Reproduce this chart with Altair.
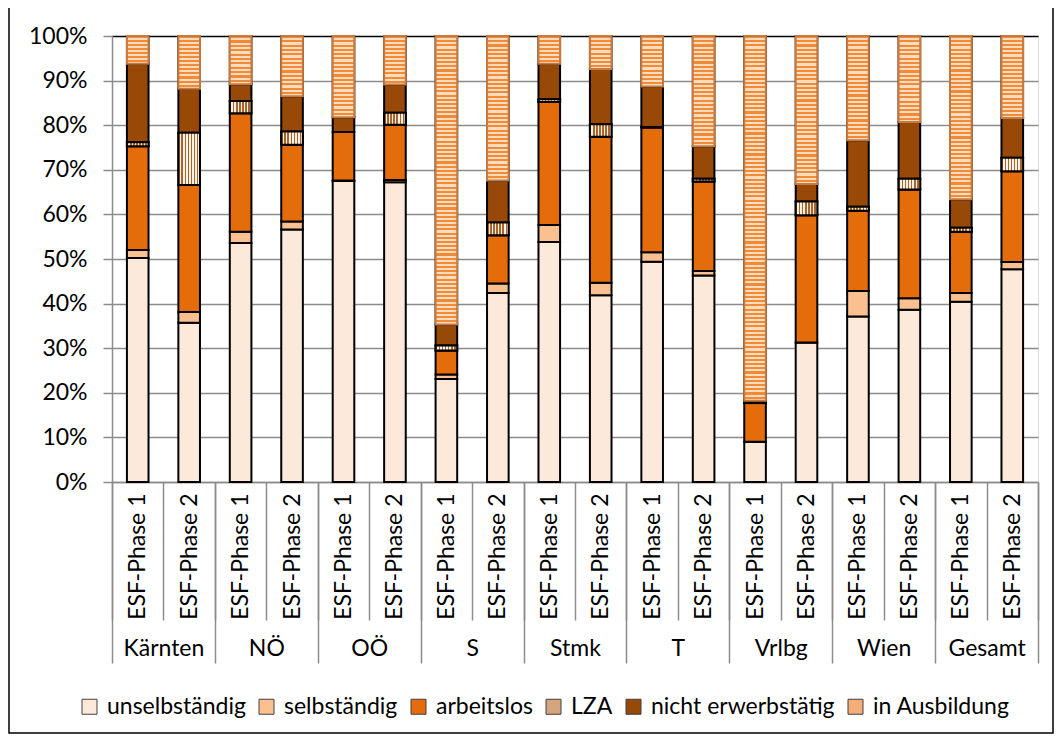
import altair as alt
import pandas as pd

groups = ["Kärnten", "NÖ", "OÖ", "S", "Stmk", "T", "Vrlbg", "Wien", "Gesamt"]
phases = ["ESF-Phase 1", "ESF-Phase 2"]
categories = ["unselbständig", "selbständig", "arbeitslos", "LZA",
              "nicht erwerbstätig", "in Ausbildung"]

unselbstaendig = [50.2, 35.7, 53.6, 56.6, 67.5, 67.2, 23.1, 42.4, 53.8, 41.9,
                  49.4, 46.3, 9.0, 31.3, 37.1, 38.6, 40.4, 47.7]
selbstaendig = [1.8, 2.4, 2.5, 1.8, 0.1, 0.5, 1.0, 2.1, 3.8, 2.8,
                2.1, 1.0, 0.0, 0.0, 5.7, 2.6, 2.0, 1.6]
arbeitslos = [23.3, 28.5, 26.6, 17.2, 10.9, 12.4, 5.4, 10.8, 27.6, 32.7,
              28.0, 20.1, 8.7, 28.5, 18.0, 24.4, 13.7, 20.4]
lza = [0.9, 11.7, 2.7, 3.0, 0.0, 2.7, 1.1, 2.9, 0.6, 2.8,
       0.1, 0.6, 0.3, 3.1, 0.9, 2.4, 0.9, 3.0]
nicht_erwerbstaetig = [17.6, 9.9, 3.8, 7.9, 3.3, 6.3, 4.7, 9.4, 8.0, 12.4,
                       9.1, 7.3, 0.2, 3.9, 14.9, 12.7, 6.4, 8.9]
in_ausbildung = [6.2, 11.8, 10.8, 13.5, 18.2, 10.9, 64.7, 32.4, 6.2, 7.4,
                 11.3, 24.7, 81.8, 33.2, 23.4, 19.3, 36.6, 18.4]

series = [unselbstaendig, selbstaendig, arbeitslos, lza, nicht_erwerbstaetig, in_ausbildung]

W, H = 926, 446
GRAY = "#8C8C8C"
FONT = "Lato"
FS = 23

rows = []
for gi, g in enumerate(groups):
    for pi, p in enumerate(phases):
        bi = gi * 2 + pi
        start = 0.0
        for ci, c in enumerate(categories):
            v = series[ci][bi]
            rows.append(dict(bar=f"{g}|{p}", idx=bi, group=g, phase=p, cat=c,
                             order=ci, y0=start, y1=start + v, v=v))
            start += v
df = pd.DataFrame(rows)
bar_ids = list(dict.fromkeys(df["bar"]))

colors = ["#FDE9D9", "#FAC090", "#E46C0A", "#D4A57F", "#984807", "#F5AE78"]

xscale = alt.Scale(domain=bar_ids, paddingInner=0, paddingOuter=0)
yscale = alt.Scale(domain=[0, 100], nice=False)
bw = alt.RelativeBandSize(0.42)

x_axis = alt.Axis(orient="bottom", labelAngle=270, labelAlign="right",
                  labelBaseline="middle", labelPadding=-127, tickBand="extent",
                  tickSize=138, tickColor=GRAY, tickWidth=1.5, domainColor=GRAY,
                  domainWidth=1.5, labelFont=FONT, labelFontSize=FS,
                  labelColor="black", grid=False,
                  labelExpr="split(datum.value, '|')[1]", title=None)
y_axis = alt.Axis(values=list(range(0, 101, 10)), labelExpr="datum.value + '%'",
                  grid=True,
                  gridColor={"condition": {"test": "datum.value === 100", "value": "black"},
                             "value": GRAY},
                  gridWidth=1.5, domainColor=GRAY,
                  domainWidth=1.5, tickColor=GRAY, tickWidth=1.5, tickSize=9,
                  labelFont=FONT, labelFontSize=FS, labelColor="black",
                  labelPadding=16, title=None)

X = alt.X("bar:N", sort=bar_ids, scale=xscale, axis=x_axis)
Y = alt.Y("y0:Q", scale=yscale, axis=y_axis)

main = alt.Chart(df).mark_bar(width=bw, stroke="black", strokeWidth=2).encode(
    x=X, y=Y, y2="y1:Q",
    color=alt.Color("cat:N", scale=alt.Scale(domain=categories, range=colors),
                    legend=alt.Legend(orient="none", legendX=-34, legendY=659,
                                      direction="horizontal", title=None,
                                      symbolType="square", symbolSize=225,
                                      symbolStrokeColor="#404040",
                                      symbolStrokeWidth=1, symbolOpacity=1,
                                      labelFont=FONT, labelFontSize=FS,
                                      labelColor="black", columnPadding=9,
                                      labelOffset=6, labelLimit=0)),
)


def stops(n, c1, c2):
    out = []
    for k in range(n):
        a = round(k / n, 5)
        m = round((k + 0.5) / n, 5)
        b = round((k + 1) / n, 5)
        out += [alt.GradientStop(offset=a, color=c1), alt.GradientStop(offset=m, color=c1),
                alt.GradientStop(offset=m, color=c2), alt.GradientStop(offset=b, color=c2)]
    return out


lza_fill = alt.LinearGradient(gradient="linear", x1=0, y1=0, x2=1, y2=0,
                              stops=stops(7, "#A8652C", "#FDF0E4"))
lza_layer = alt.Chart(df[df["cat"] == "LZA"]).mark_bar(
    width=bw, fill=lza_fill, stroke="black", strokeWidth=2).encode(
    x=X, y=Y, y2="y1:Q")

ausb_df = df[df["cat"] == "in Ausbildung"].reset_index(drop=True)
ausb_layers = []
for i in range(len(ausb_df)):
    sub = ausb_df.iloc[[i]]
    hpx = float(sub["v"].iloc[0]) / 100.0 * H
    n = max(1, int(round(hpx / 4.2)))
    fill = alt.LinearGradient(gradient="linear", x1=0, y1=0, x2=0, y2=1,
                              stops=stops(n, "#F28A36", "#FDDCC0"))
    ausb_layers.append(alt.Chart(sub).mark_bar(
        width=bw, fill=fill, stroke="#C57A42", strokeWidth=2).encode(
        x=X, y=Y, y2="y1:Q"))

inner = alt.layer(main, lza_layer, *ausb_layers)

grp = alt.Chart(pd.DataFrame({"group": groups})).mark_point(opacity=0).encode(
    x=alt.X("group:N", sort=groups,
            scale=alt.Scale(type="band", domain=groups, paddingInner=0, paddingOuter=0),
            axis=alt.Axis(orient="bottom", tickBand="extent", tickSize=181,
                          tickColor=GRAY, tickWidth=1.5, domain=False,
                          labelPadding=-15, labelBaseline="middle", labelAngle=0,
                          labelFont=FONT, labelFontSize=FS, labelColor="black",
                          grid=False, title=None)))

frame = alt.Chart(pd.DataFrame({"a": [0]})).mark_rect(
    fillOpacity=0, stroke="black", strokeWidth=1.5).encode(
    x=alt.value(-103), x2=alt.value(941), y=alt.value(-30), y2=alt.value(697))

chart = alt.layer(inner, grp, frame).resolve_scale(x="independent").properties(
    width=W, height=H,
    autosize=alt.AutoSizeParams(type="none"),
    padding={"left": 104, "top": 28, "right": 16, "bottom": 254},
).configure_view(stroke="black", strokeWidth=1.5).configure(font=FONT, background="white")

chart.save("out.html", embed_options={"renderer": "svg", "actions": False})
